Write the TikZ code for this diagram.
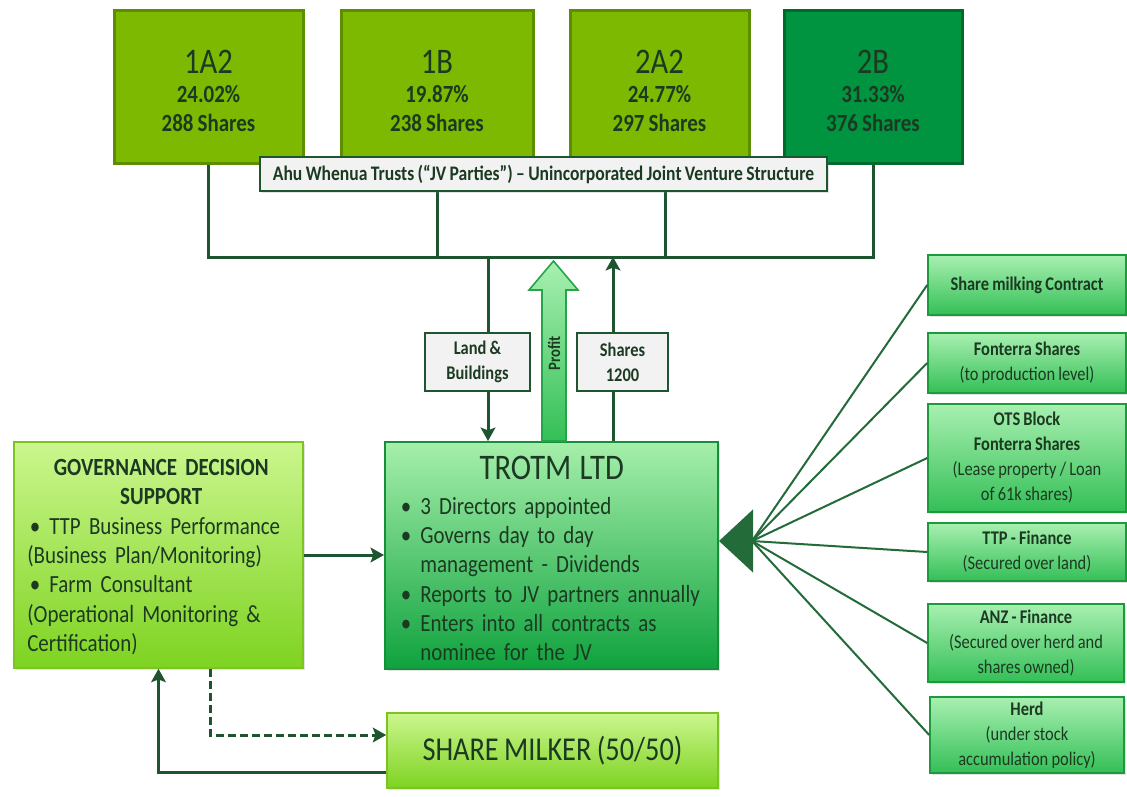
\documentclass[tikz,border=0pt]{standalone}
\usepackage{fontspec}
\setmainfont{Carlito}[FakeStretch=0.85,WordSpace=0.85]
\usetikzlibrary{arrows.meta,calc,shadows}
\definecolor{lineg}{HTML}{1E5530}
\definecolor{txt}{HTML}{1C3A22}
\definecolor{topF}{HTML}{7DB900}
\definecolor{topB}{HTML}{5C8E00}
\definecolor{twoF}{HTML}{009340}
\definecolor{twoB}{HTML}{006A2E}
\definecolor{govT}{HTML}{CBF68E}
\definecolor{govB}{HTML}{7ED321}
\definecolor{govD}{HTML}{7CC520}
\definecolor{trT}{HTML}{A6EFAB}
\definecolor{trB}{HTML}{0FA23E}
\definecolor{trD}{HTML}{168F3A}
\definecolor{rT}{HTML}{A8F0B0}
\definecolor{rB}{HTML}{34BF57}
\definecolor{rD}{HTML}{1D9B3C}
\definecolor{barF}{HTML}{F2F2F2}
\definecolor{spokeC}{HTML}{246B3A}
\definecolor{profD}{HTML}{25A548}
\newcommand{\bulA}{\par\hangindent=16.5pt\hangafter=1\noindent\makebox[16.5pt][l]{\hspace{2pt}\textbullet}}
\newcommand{\bulB}{\par\noindent\makebox[16.5pt][l]{\hspace{2pt}\textbullet}}
\begin{document}
\begin{tikzpicture}[x=0.75pt,y=-0.75pt,
  every node/.style={text=txt},
  shad/.style={drop shadow={opacity=0.22, shadow xshift=1.5pt, shadow yshift=-1.5pt}},
  conn/.style={draw=lineg, line width=2.25pt},
  arr/.style={-{Stealth[length=10pt,width=11pt,inset=2pt]}},
  topbox/.style={draw=topB, fill=topF, line width=2.25pt, minimum height=153*0.75pt, inner sep=0pt},
  toptext/.style={align=center, font=\bfseries\fontsize{18.5}{22}\selectfont, inner sep=0pt},
  lab/.style={draw=lineg, fill=barF, line width=1.5pt, minimum height=58*0.75pt, align=center, font=\bfseries\fontsize{14.5}{18.75}\selectfont, inner sep=0pt},
  rbox/.style={draw=rD, line width=1.2pt, top color=rT, bottom color=rB, minimum width=198*0.75pt, align=center, inner sep=0pt, font=\fontsize{14.5}{18.75}\selectfont, shad},
  spoke/.style={draw=spokeC, line width=1.5pt}
]
\useasboundingbox (0,0) rectangle (1127,796);
\fill[white] (0,0) rectangle (1127,796);

% top trust boxes
\node[topbox, minimum width=189*0.75pt] (b1) at (208.5,86.5) {};
\node[topbox, minimum width=192*0.75pt] (b2) at (437,86.5) {};
\node[topbox, minimum width=179*0.75pt] (b3) at (659.5,86.5) {};
\node[topbox, draw=twoB, fill=twoF, minimum width=178*0.75pt] (b4) at (873,86.5) {};
\node[toptext] (t1) at (208.5,91) {{\mdseries\fontsize{27}{26}\selectfont 1A2}\\24.02\%\\288 Shares};
\node[toptext] (t2) at (437,91) {{\mdseries\fontsize{27}{26}\selectfont 1B}\\19.87\%\\238 Shares};
\node[toptext] (t3) at (659.5,91) {{\mdseries\fontsize{27}{26}\selectfont 2A2}\\24.77\%\\297 Shares};
\node[toptext] (t4) at (873,91) {{\mdseries\fontsize{27}{26}\selectfont 2B}\\31.33\%\\376 Shares};

% bus
\coordinate (bus) at (0,257);
\draw[conn] (b1.south) -- (b1.south |- bus) -- (b4.south |- bus) -- (b4.south);
\draw[conn] (b2.south) -- (b2.south |- bus);
\draw[conn] ($(b3.south)+(5.5,0)$) -- ($(b3.south |- bus)+(5.5,0)$);

\node[draw=lineg, fill=barF, line width=1.5pt, minimum width=567*0.75pt, minimum height=34*0.75pt, inner sep=0pt, font=\bfseries\fontsize{15.5}{17}\selectfont, shad] (bar) at (543.5,174) {Ahu Whenua Trusts (“JV Parties”) – Unincorporated Joint Venture Structure};

% TROTM
\node[draw=trD, line width=1.5pt, top color=trT, bottom color=trB, minimum width=333*0.75pt, minimum height=227*0.75pt, shad] (trotm) at (551.5,555.5) {};
\node[anchor=north west, text width=307*0.75pt, inner sep=0pt, font=\fontsize{18.5}{22}\selectfont] (trtxt) at (398,456) {%
{\centering\fontsize{27}{30}\selectfont TROTM LTD\par}\vspace{4pt}
\raggedright
\bulA 3 Directors appointed
\bulA Governs day to day\newline management - Dividends
\bulA Reports to JV partners annually
\bulA Enters into all contracts as\newline nominee for the JV\par};

% vertical links
\coordinate (lbx) at (488,257);
\coordinate (shx) at (613,257);
\draw[conn, arr] (lbx) -- (lbx |- trotm.north);
\draw[conn, arr] (shx |- trotm.north) -- (shx);
\node[lab, minimum width=105*0.75pt] (lb) at (477.5,362) {Land \&\\Buildings};
\node[lab, minimum width=91*0.75pt] (sh) at (622.5,362) {Shares\\1200};

% profit arrow
\draw[draw=profD, line width=1.2pt, top color=rT, bottom color=rB] (542,441) -- (542,290) -- (529,290) -- (553.5,261) -- (578,290) -- (566,290) -- (566,441) -- cycle;
\node[rotate=90, inner sep=0pt, font=\bfseries\fontsize{13}{15}\selectfont] (profit) at (554,353) {Profit};

% governance
\node[draw=govD, line width=1.2pt, top color=govT, bottom color=govB, minimum width=289*0.75pt, minimum height=226*0.75pt, shad] (gov) at (158.5,555) {};
\node[anchor=north west, text width=268*0.75pt, inner sep=0pt, font=\fontsize{18.5}{22}\selectfont] (govtxt) at (27,459) {%
{\centering\bfseries GOVERNANCE DECISION\\ SUPPORT\par}
\raggedright
\bulB TTP Business Performance\newline
(Business Plan/Monitoring)
\bulB Farm Consultant\newline
(Operational Monitoring \&\newline
Certification)\par};

% share milker
\node[draw=govD, line width=1.2pt, top color=govT, bottom color=govB, minimum width=331*0.75pt, minimum height=75*0.75pt, font=\fontsize{25}{26}\selectfont, shad] (sm) at (552.5,750.5) {SHARE MILKER (50/50)};

\draw[conn, arr] (gov.east) -- (trotm.west |- gov.east);
\draw[conn, arr, dash pattern=on 6pt off 3pt] ($(gov.south)+(51.5,0)$) |- ($(sm.west)+(0,-15.5)$);
\draw[conn, arr] ($(sm.west)+(0,21.5)$) -| (gov.south);

% right boxes
\node[rbox, minimum height=60*0.75pt] (r1) at (1027,285) {\textbf{Share milking Contract}};
\node[rbox, minimum height=60*0.75pt] (r2) at (1027,363) {\textbf{Fonterra Shares}\\(to production level)};
\node[rbox, minimum height=108*0.75pt] (r3) at (1027,458) {\textbf{OTS Block}\\\textbf{Fonterra Shares}\\(Lease property / Loan\\of 61k shares)};
\node[rbox, minimum height=58*0.75pt] (r4) at (1027,552) {\textbf{TTP - Finance}\\(Secured over land)};
\node[rbox, minimum height=78*0.75pt, minimum width=196*0.75pt] (r5) at (1026,643) {\textbf{ANZ - Finance}\\(Secured over herd and\\shares owned)};
\node[rbox, minimum height=76*0.75pt, minimum width=194*0.75pt] (r6) at (1027,735) {\textbf{Herd}\\(under stock\\accumulation policy)};

\coordinate (conv) at (752,541);
\coordinate (tip) at (719,541);
\foreach \r in {r1,r2,r3,r4,r5,r6} \draw[spoke] (\r.west) -- (conv);
\draw[spoke, -{Triangle[length=25.5pt,width=47pt]}] (conv) -- (tip);
\end{tikzpicture}
\end{document}
